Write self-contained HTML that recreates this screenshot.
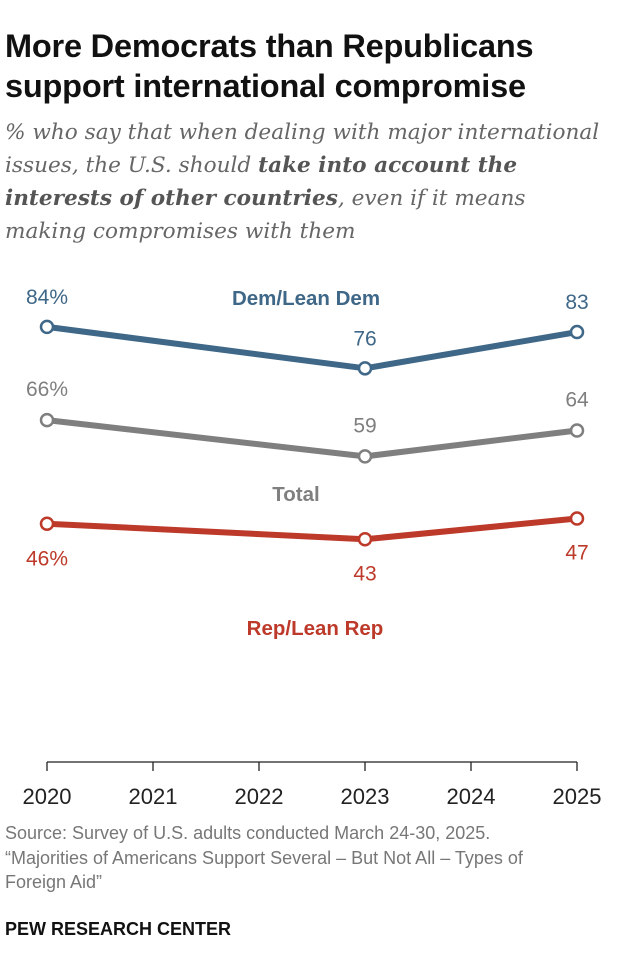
<!DOCTYPE html>
<html><head><meta charset="utf-8">
<style>
body{margin:0;background:#fff;width:620px;height:976px;overflow:hidden;font-family:"Liberation Sans",sans-serif}
.t{position:absolute;left:5px;top:26px;font-size:32.5px;font-weight:bold;line-height:40px;color:#111;letter-spacing:-0.2px;white-space:nowrap}
.s{position:absolute;left:5px;top:116px;font-family:"DejaVu Serif",serif;font-style:italic;font-size:21.6px;line-height:33px;color:#666;white-space:nowrap}
.s b{color:#555}
.f{position:absolute;left:5px;top:821px;font-size:18px;line-height:24.5px;color:#777;white-space:nowrap}
.p{position:absolute;left:5px;top:919px;font-size:18px;font-weight:bold;color:#111}
</style></head><body>
<div class="t">More Democrats than Republicans<br>support international compromise</div>
<div class="s">% who say that when dealing with major international<br>issues, the U.S. should <b>take into account the</b><br><b>interests of other countries</b>, even if it means<br>making compromises with them</div>
<svg id="c" width="620" height="976" style="position:absolute;left:0;top:0"></svg>
<div class="f">Source: Survey of U.S. adults conducted March 24-30, 2025.<br>“Majorities of Americans Support Several – But Not All – Types of<br>Foreign Aid”</div>
<div class="p">PEW RESEARCH CENTER</div>
<script>
const years=[2020,2021,2022,2023,2024,2025];
const ptYears=[2020,2023,2025];
const dem=[84,76,83];
const total=[66,59,64];
const rep=[46,43,47];
const demLabels=["84%","76","83"];
const totLabels=["66%","59","64"];
const repLabels=["46%","43","47"];
const NS="http://www.w3.org/2000/svg";
const svg=document.getElementById('c');
const x=y=>47+(y-2020)*106;
const yv=v=>762-v*5.18;
function mk(t,a){const e=document.createElementNS(NS,t);for(const k in a)e.setAttribute(k,a[k]);svg.appendChild(e);return e;}
const ax=mk('line',{x1:47,x2:577,y1:762,y2:762,stroke:'#222','stroke-width':1.3});


years.forEach(y=>{
 const tk=mk('line',{x1:x(y),x2:x(y),y1:762,y2:771,stroke:'#222','stroke-width':1.3});
 
 
 const tl=mk('text',{x:x(y),y:804,'text-anchor':'middle','font-size':22,fill:'#222'});
 tl.textContent=y;
 
 
});
function series(vals,labs,col,name,offs){
 const pl=mk('polyline',{points:vals.map((v,i)=>x(ptYears[i])+','+yv(v)).join(' '),fill:'none',stroke:col,'stroke-width':6,'stroke-linejoin':'round'});
 
 
 vals.forEach((v,i)=>{
  const c=mk('circle',{cx:x(ptYears[i]),cy:yv(v),r:6,fill:'#fff',stroke:col,'stroke-width':2.5});
  
  
  const t=mk('text',{x:x(ptYears[i]),y:yv(v)+offs[i],'text-anchor':'middle','font-size':21,fill:col});
  t.textContent=labs[i];
  
  
 });
}
series(total,totLabels,'#7f7f7f','total',[-24,-24,-24]);
series(dem,demLabels,'#3f6787','dem',[-23,-23,-23]);
series(rep,repLabels,'#bd3a2a','rep',[42,41,41]);
[['Dem/Lean Dem',306,305,'#3f6787','dem-series-label'],['Total',296,501,'#7f7f7f','total-series-label'],['Rep/Lean Rep',315,635,'#bd3a2a','rep-series-label']].forEach(d=>{
 const t=mk('text',{x:d[1],y:d[2],'text-anchor':'middle','font-size':20.5,'font-weight':'bold',fill:d[3]});
 t.textContent=d[0];
 
 
});
</script>
</body></html>
